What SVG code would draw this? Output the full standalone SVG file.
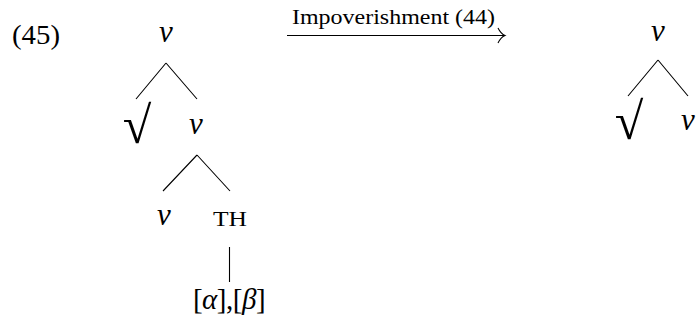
<svg xmlns="http://www.w3.org/2000/svg" width="696" height="327" viewBox="0 0 696 327">
<style>
text{font-family:"Liberation Serif","DejaVu Serif",serif;fill:#000}
.m{font-size:27px}
.f{font-size:29px}
.v{font-size:31px;font-style:italic}
.i{font-style:italic}
.r{font-size:52px}
.lbl{font-size:20px}
.sc{font-size:22px}
.e{stroke:#000;stroke-width:1.1;fill:none}
</style>
<rect width="696" height="327" fill="#fff"/>
<text id="ex-num" class="m" x="12" y="44" textLength="48" lengthAdjust="spacingAndGlyphs">(45)</text>
<g id="left-v-top"><text class="v" x="166" y="42" text-anchor="middle">v</text></g>
<g id="left-root"><text class="r" x="137" y="143" text-anchor="middle">√</text></g>
<g id="left-v-mid"><text class="v" x="196" y="134" text-anchor="middle">v</text></g>
<g id="left-v-low"><text class="v" x="164" y="225" text-anchor="middle">v</text></g>
<g id="left-th"><text class="sc" x="230" y="226" text-anchor="middle" textLength="34" lengthAdjust="spacingAndGlyphs">TH</text></g>
<g id="left-feat"><text class="f" x="229" y="309" text-anchor="middle" letter-spacing="-0.5">[<tspan class="i">α</tspan>],[<tspan class="i">β</tspan>]</text></g>
<g id="right-v-top"><text class="v" x="658" y="41" text-anchor="middle">v</text></g>
<g id="right-root"><text class="r" x="629" y="139" text-anchor="middle">√</text></g>
<g id="right-v"><text class="v" x="688" y="130" text-anchor="middle">v</text></g>
<g id="arrow-label"><text class="lbl" x="292" y="24" textLength="203" lengthAdjust="spacingAndGlyphs">Impoverishment (44)</text></g>
<g id="connectors">
<path class="e" d="M166 63 L136 99 M166 63 L197 99"/>
<path class="e" d="M197 155 L163 191 M197 155 L230 191"/>
<path class="e" d="M229.5 247 L229.5 282"/>
<path class="e" d="M658 60 L628 96 M658 60 L688 96"/>
<path class="e" d="M287 35.5 L505 35.5"/>
<path class="e" d="M498 28 Q501 34 505 35.5 Q501 37 498 43"/>
</g>
</svg>
